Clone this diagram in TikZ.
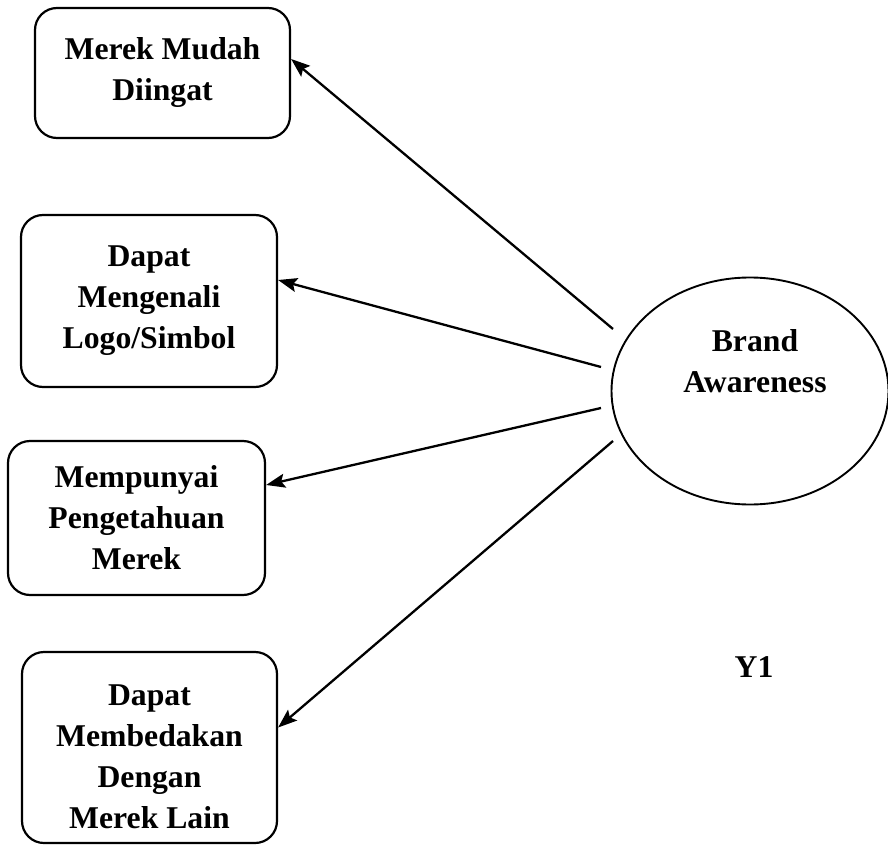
\documentclass[tikz,border=0pt]{standalone}
\usepackage{fontspec}
\setmainfont{Liberation Serif}
\usetikzlibrary{shapes.geometric,arrows.meta}
\begin{document}
\begin{tikzpicture}[x=1pt,y=-1pt,
  txt/.style={font=\fontsize{31.7}{41}\selectfont\bfseries,align=center},
  box/.style={txt,draw,line width=2.2pt,rounded corners=22pt,inner sep=0pt},
  latent/.style={draw,ellipse,line width=1.9pt,inner sep=0pt},
  link/.style={line width=2.3pt,-{Stealth[length=19pt,width=14pt,inset=3.5pt]}}]
\useasboundingbox (0,0) rectangle (888,845);

% indicator boxes
\node[box,minimum width=255pt,minimum height=130pt] (b1) at (162.5,73) {Merek Mudah\\Diingat};
\node[box,minimum width=256pt,minimum height=172pt] (b2) at (149,301) {Dapat\\Mengenali\\Logo/Simbol};
\node[box,minimum width=257pt,minimum height=154pt] (b3) at (136.5,518) {Mempunyai\\Pengetahuan\\Merek};
\node[box,minimum width=255pt,minimum height=191pt] (b4) at (149.5,747.5) {};
\node[txt] (b4text) at (149.5,756.5) {Dapat\\Membedakan\\Dengan\\Merek Lain};

% latent construct
\node[latent,minimum width=277pt,minimum height=227pt] (ba) at (750,391) {};
\node[txt] (batext) at (755,361) {Brand\\Awareness};
\node[txt] (y1) at (754,667) {Y1};

% arrow origins just outside the ellipse
\coordinate (s1) at (613,329);
\coordinate (s2) at (601,367);
\coordinate (s3) at (601,408);
\coordinate (s4) at (613,441);

\draw[link] (s1) -- ([yshift=14pt]b1.east);
\draw[link] (s2) -- ([yshift=21pt]b2.east);
\draw[link] (s3) -- ([yshift=33pt]b3.east);
\draw[link] (s4) -- ([yshift=20pt]b4.east);
\end{tikzpicture}
\end{document}
